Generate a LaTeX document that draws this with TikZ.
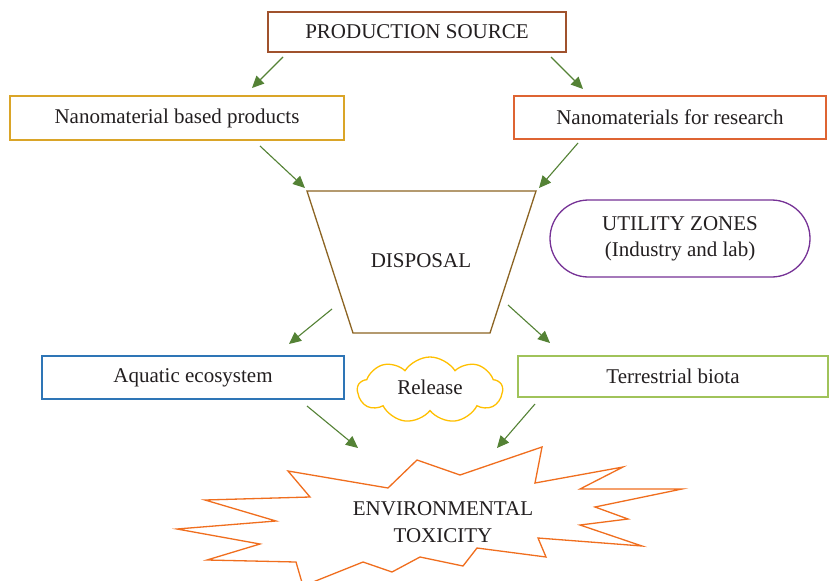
\documentclass[tikz,border=0pt]{standalone}
\usepackage{fontspec}
\setmainfont{Liberation Serif}
\usetikzlibrary{arrows.meta,shapes.symbols}
\definecolor{txt}{RGB}{35,31,32}
\definecolor{cps}{RGB}{160,82,45}
\definecolor{cnbp}{RGB}{218,165,40}
\definecolor{cnfr}{RGB}{222,100,50}
\definecolor{cdisp}{RGB}{140,100,35}
\definecolor{cutil}{RGB}{118,50,150}
\definecolor{caqua}{RGB}{46,117,182}
\definecolor{cterr}{RGB}{160,195,90}
\definecolor{ccloud}{RGB}{255,192,0}
\definecolor{cstar}{RGB}{240,110,30}
\definecolor{carrow}{RGB}{84,130,53}
\tikzset{
  lbl/.style={text=txt,font=\fontsize{21}{25}\selectfont,align=center,inner sep=0pt},
  boxnode/.style={lbl,draw,line width=1.3pt,minimum width=#1},
  flow/.style={draw=carrow,line width=1.1pt,-{Triangle[length=12pt,width=11pt]}}
}
\begin{document}
\begin{tikzpicture}[x=1pt,y=-1pt]
\useasboundingbox[fill=white] (0,0) rectangle (830,581);
% boxes
\node[boxnode=298,draw=cps,minimum height=40] (ps) at (417,32) {PRODUCTION SOURCE};
\node[boxnode=334,draw=cnbp,minimum height=44] (nbp) at (177,118) {Nanomaterial based products};
\node[boxnode=312,draw=cnfr,minimum height=43] (nfr) at (670,117.5) {Nanomaterials for research};
\node[boxnode=302,draw=caqua,minimum height=43] (aqua) at (193,377.5) {Aquatic ecosystem};
\node[boxnode=310,draw=cterr,minimum height=41] (terr) at (673,376.5) {Terrestrial biota};
% disposal trapezoid
\coordinate (d1) at (307,191);
\coordinate (d2) at (536,191);
\coordinate (d3) at (490,333);
\coordinate (d4) at (353,333);
\draw[cdisp,line width=1.3pt,line join=miter] (d1) -- (d2) -- (d3) -- (d4) -- cycle;
\node[lbl] (disp) at (421,261) {DISPOSAL};
% utility zones
\draw[cutil,line width=1.3pt,rounded corners=38.5] (550,200) rectangle (810,277);
\node[lbl] (util) at (680,238.5) {UTILITY ZONES\\[1pt](Industry and lab)};
% release cloud
\node[cloud,draw=ccloud,line width=1.3pt,cloud puffs=9,cloud puff arc=115,aspect=2.2,minimum width=145,minimum height=66,inner sep=0pt] (cl) at (430,390) {};
\node[lbl] (rel) at (430,387) {Release};
% star
\draw[cstar,line width=1.3pt,line join=miter] (288,471) -- (388,488) -- (417,460) -- (460,475) -- (542,447) -- (535,483) -- (623,467) -- (580,489) -- (682,489) -- (595,507) -- (628,519) -- (580,525) -- (642,546) -- (538,538) -- (546,557) -- (477,548) -- (463,566) -- (420,557) -- (392,572) -- (363,562) -- (303,586) -- (296,562) -- (207,560) -- (260,544) -- (177,529) -- (276,521) -- (205,500) -- (310,497) -- cycle;
\node[lbl] (tox) at (443,522) {ENVIRONMENTAL\\[2pt]TOXICITY};
% arrow end points
\coordinate (a1s) at (283,57);  \coordinate (a1e) at (252,88);
\coordinate (a2s) at (551,57);  \coordinate (a2e) at (583,89);
\coordinate (a3s) at (260,146); \coordinate (a3e) at (305,188);
\coordinate (a4s) at (578,143); \coordinate (a4e) at (539,188);
\coordinate (a5s) at (332,309); \coordinate (a5e) at (289,344);
\coordinate (a6s) at (508,305); \coordinate (a6e) at (550,343);
\coordinate (a7s) at (307,406); \coordinate (a7e) at (358,448);
\coordinate (a8s) at (535,404); \coordinate (a8e) at (497,448);
\draw[flow] (a1s) -- (a1e);
\draw[flow] (a2s) -- (a2e);
\draw[flow] (a3s) -- (a3e);
\draw[flow] (a4s) -- (a4e);
\draw[flow] (a5s) -- (a5e);
\draw[flow] (a6s) -- (a6e);
\draw[flow] (a7s) -- (a7e);
\draw[flow] (a8s) -- (a8e);
\end{tikzpicture}
\end{document}
